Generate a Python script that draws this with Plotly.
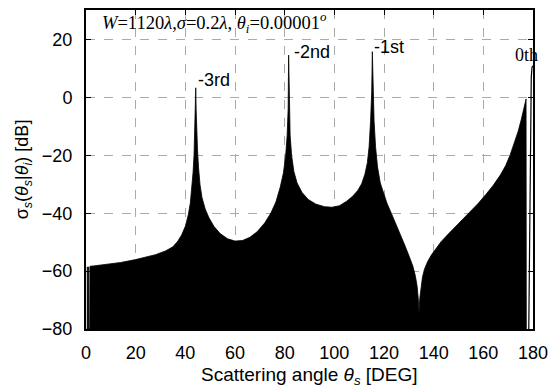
import plotly.graph_objects as go

# Upper envelope of the (densely oscillating) scattering cross-section
angle_deg = [0.3, 0.5, 0.55, 0.65, 1.0, 1.05, 1.15, 1.5, 1.6, 3, 8, 14, 20, 25, 28, 32, 35, 37,
             38.5, 40, 41.2, 42, 42.6, 43.1, 43.5, 43.8, 44.05, 44.2, 44.35, 44.6, 44.9, 45.3,
             45.9, 46.7, 48, 49.5, 51.5, 54, 57, 60, 63, 66, 69, 72, 74.5, 76.5, 78.2, 79.5,
             80.4, 81, 81.4, 81.6, 81.8, 82.2, 82.8, 83.7, 85, 87, 89.5, 92.5, 96, 99, 102, 105,
             107.5, 109.5, 111, 112.3, 113.3, 114, 114.6, 115.05, 115.3, 115.55, 116, 116.6,
             117.4, 118.5, 119.7, 121.2, 123.2, 125, 126.8, 128.5, 130.2, 131.6, 132.6, 133.3,
             133.8, 134.1, 134.4, 134.9, 135.5, 136.3, 137.5, 139, 141, 143, 145.5, 148.3, 151.5,
             154.9, 158, 161, 164, 166.9, 169, 170.8, 172.5, 174, 175.3, 176.4, 177.2, 177.3]
sigma_db = [-80, -80, -58.5, -80, -80, -58.5, -80, -80, -58.3, -58.2, -57.7, -57, -56, -55,
            -54.3, -53, -51.6, -49.6, -47.5, -44.5, -40.5, -36.5, -32, -26, -20, -13, -4, 3.4,
            -4, -12, -18, -24, -30, -34.5, -38.5, -41.5, -44.5, -47, -48.8, -49.6, -49.4, -48.3,
            -46.3, -43.3, -39.8, -36, -31, -26, -20, -13, -4, 14.7, -4, -13, -20, -25.5, -29.5,
            -32.8, -35.2, -36.8, -37.7, -37.9, -37.4, -35.8, -34, -32, -29.8, -26.5, -22.5, -17,
            -8, 2, 15.9, 2, -8, -17, -24, -29.5, -33, -36.5, -40.5, -44, -47.8, -51.3, -55,
            -58.2, -61.5, -65, -69.5, -74.4, -69.5, -65, -62, -59.3, -56.8, -54.5, -52, -49.8,
            -47.5, -45.1, -42.3, -39.3, -36.5, -33.5, -30.3, -26.7, -23.5, -19.8, -15.8, -11.7,
            -7.5, -3.5, -0.5, -80]

# Specular (0th order) lobe near backscatter
lobe_deg = [178.3, 178.6, 178.9, 179.1, 179.3, 179.6, 180]
lobe_db = [-80, -45, -15, 0, 7, 10.5, 11]

x_ticks = [0, 20, 40, 60, 80, 100, 120, 140, 160, 180]
y_ticks = [-80, -60, -40, -20, 0, 20]

# Order labels: text, angle, dB
order_labels = ["-3rd", "-2nd", "-1st", "0th"]
order_x = [44.2, 82.9, 115.3, 177.2]
order_y = [6, 15.9, 17.6, 14.8]

fig = go.Figure()
fig.add_trace(go.Scatter(x=angle_deg, y=sigma_db, mode="lines", fill="toself",
                         fillcolor="black", line=dict(color="black", width=0.8),
                         hoverinfo="skip", showlegend=False))
fig.add_trace(go.Scatter(x=lobe_deg, y=lobe_db, mode="lines",
                         line=dict(color="black", width=1.2), showlegend=False))

sans = "Liberation Sans, Arial, sans-serif"
serif = "Liberation Serif, Times New Roman, serif"

for t, xv, yv in zip(order_labels, order_x, order_y):
    if t == "0th":
        fig.add_annotation(x=xv, y=yv, xref="x", yref="y", text=t, showarrow=False,
                           xanchor="center", yanchor="middle",
                           font=dict(family=serif, size=18, color="black"))
    else:
        fig.add_annotation(x=xv, y=yv, xref="x", yref="y", text=t, showarrow=False,
                           xanchor="left", yanchor="middle",
                           font=dict(family=sans, size=18, color="black"))

fig.add_annotation(x=5.5, y=26.0, xref="x", yref="y",
                   text="<i>W</i>=1120<i>λ</i>,<i>σ</i>=0.2<i>λ</i>, <i>θ<sub>i</sub></i>=0.00001<sup><i>o</i></sup>",
                   showarrow=False, xanchor="left", yanchor="middle",
                   font=dict(family=serif, size=18.5, color="black"))

fig.add_annotation(x=-0.139, y=0.5, xref="paper", yref="paper", textangle=-90,
                   text="σ<sub><i>s</i></sub>(<i>θ<sub>s</sub></i>|<i>θ<sub>i</sub></i>) [dB]",
                   showarrow=False, xanchor="center", yanchor="middle",
                   font=dict(family=sans, size=18, color="black"))
fig.add_annotation(x=0.5, y=-0.148, xref="paper", yref="paper",
                   text="Scattering angle <i>θ<sub>s</sub></i> [DEG]",
                   showarrow=False, xanchor="center", yanchor="middle",
                   font=dict(family=sans, size=19, color="black"))

axis_common = dict(showline=True, linecolor="black", linewidth=2, mirror="ticks",
                   ticks="inside", ticklen=5, tickcolor="black", tickwidth=1,
                   showgrid=True, gridcolor="#aaaaaa", gridwidth=1, griddash="dash",
                   zeroline=False, tickfont=dict(family=sans, size=18, color="black"))

fig.update_xaxes(range=[0, 180], tickvals=x_ticks, ticklabelstandoff=6, **axis_common)
fig.update_yaxes(range=[-80, 30.3], tickvals=y_ticks, ticklabelstandoff=8, **axis_common)

fig.update_layout(width=556, height=388, margin=dict(l=86, r=16, t=8, b=59),
                  plot_bgcolor="white", paper_bgcolor="white", showlegend=False)

fig.write_html("out.html", config={"displayModeBar": False},
               post_script="document.body.style.margin='0';document.body.style.overflow='hidden';")
